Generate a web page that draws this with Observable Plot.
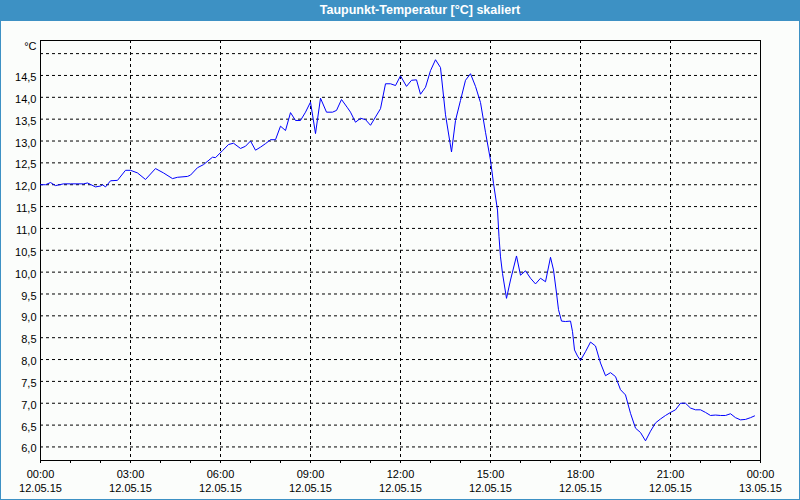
<!DOCTYPE html>
<html>
<head>
<meta charset="utf-8">
<script src="https://cdn.jsdelivr.net/npm/d3@7"></script>
<script src="https://cdn.jsdelivr.net/npm/@observablehq/plot@0.6"></script>
<style>
  html, body { margin: 0; padding: 0; background: #fbfdfb; }
  #win { position: relative; width: 800px; height: 500px; background: #fbfdfb; overflow: hidden; }
  #title { position: absolute; left: 0; top: 0; width: 800px; height: 21px; background: #3d91c4;
           color: #fff; font: bold 12.5px "Liberation Sans", Arial, sans-serif; line-height: 20px;
           box-sizing: border-box; padding-left: 40px; text-align: center; }
  #chart { position: absolute; left: 0; top: 21px; }
  #border { position: absolute; left: 0; top: 0; width: 800px; height: 500px; box-sizing: border-box;
            border: 1px solid #3d91c4; pointer-events: none; }
</style>
</head>
<body>
<div id="win">
  <div id="title">Taupunkt-Temperatur [°C] skaliert</div>
  <div id="chart"></div>
  <div id="border"></div>
</div>
<script>
// Data (time of day on 12.05.15, dew point in °C)
const times = [
  "00:00","00:10","00:20","00:30","00:46","01:00","01:26","01:34","01:50","02:00",
  "02:04","02:10","02:20","02:34","02:50","03:00","03:14","03:30","03:50","04:06",
  "04:24","04:34","04:54","05:00","05:14","05:26","05:44","05:50","06:04","06:16",
  "06:26","06:40","06:50","07:00","07:10","07:20","07:30","07:40","07:50","08:00",
  "08:10","08:20","08:30","08:40","08:50","09:00","09:10","09:20","09:32","09:44",
  "09:52","10:02","10:14","10:20","10:30","10:40","10:50","11:00","11:10","11:20",
  "11:30","11:40","11:50","12:00","12:12","12:22","12:32","12:40","12:50","13:00",
  "13:10","13:20","13:30","13:42","13:50","14:00","14:10","14:20","14:30","14:40",
  "14:50","15:00","15:06","15:14","15:17","15:20","15:24","15:32","15:40","15:52",
  "16:00","16:10","16:20","16:30","16:40","16:50","17:00","17:06","17:12","17:16",
  "17:22","17:30","17:40","17:44","17:48","17:54","18:00","18:10","18:20","18:30",
  "18:40","18:50","19:00","19:10","19:20","19:30","19:40","19:50","20:00","20:10",
  "20:20","20:30","20:40","20:50","21:00","21:10","21:20","21:30","21:40","21:50",
  "22:00","22:10","22:20","22:30","22:40","22:50","23:00","23:10","23:20","23:30",
  "23:40","23:48"
];
const dewPoint = [
  12.00,12.00,12.05,11.98,12.02,12.02,12.02,12.04,11.95,11.97,
  12.00,11.95,12.09,12.10,12.33,12.33,12.27,12.12,12.37,12.27,
  12.14,12.17,12.19,12.22,12.39,12.46,12.63,12.62,12.78,12.92,
  12.95,12.83,12.88,13.00,12.79,12.86,12.94,13.03,13.03,13.34,
  13.24,13.65,13.47,13.47,13.66,13.89,13.17,13.98,13.66,13.66,
  13.70,13.95,13.76,13.66,13.43,13.52,13.49,13.36,13.55,13.74,
  14.31,14.31,14.27,14.49,14.25,14.39,14.40,14.07,14.23,14.61,
  14.86,14.68,13.60,12.75,13.47,13.93,14.39,14.54,14.25,13.88,
  13.20,12.56,12.03,11.42,10.81,10.35,9.97,9.40,9.82,10.37,
  9.93,10.03,9.86,9.73,9.86,9.78,10.34,10.05,9.52,9.14,
  8.88,8.87,8.88,8.64,8.22,8.08,7.98,8.18,8.40,8.31,
  7.92,7.63,7.70,7.61,7.31,7.19,6.77,6.43,6.33,6.14,
  6.36,6.55,6.64,6.72,6.79,6.85,7.00,7.00,6.89,6.85,
  6.85,6.79,6.72,6.73,6.72,6.72,6.76,6.67,6.62,6.63,
  6.67,6.71
];
const yTickValues = [6.0,6.5,7.0,7.5,8.0,8.5,9.0,9.5,10.0,10.5,11.0,11.5,12.0,12.5,13.0,13.5,14.0,14.5];
const yGridValues = [...yTickValues, 15.0];
const majorHours = [0,3,6,9,12,15,18,21,24];
const minorHours = d3.range(0, 25);
const yDomain = [5.69, 15.3];
const unitLabel = "°C";

const day = (h, m = 0) => new Date(Date.UTC(2015, 4, 12, h, m));
const data = times.map((t, i) => {
  const [h, m] = t.split(":").map(Number);
  return {date: day(h, m), value: dewPoint[i]};
});
const majorTicks = majorHours.map(h => day(h));
const minorTicks = minorHours.map(h => day(h));
const innerMajor = majorTicks.slice(1, -1);
const commaFmt = d => d.toFixed(1).replace(".", ",");

const chart = Plot.plot({
  width: 800,
  height: 479,
  marginLeft: 40,
  marginRight: 40,
  marginTop: 19,
  marginBottom: 40,
  style: {fontFamily: '"Liberation Sans", Arial, sans-serif', fontSize: "11px", background: "transparent", color: "#000"},
  x: {type: "utc", domain: [day(0), day(24)], label: null},
  y: {domain: yDomain, label: null},
  marks: [
    Plot.ruleY(yGridValues, {stroke: "#000", strokeDasharray: "3,3"}),
    Plot.ruleX(innerMajor, {stroke: "#000", strokeDasharray: "3,3"}),
    Plot.frame({stroke: "#000"}),
    Plot.axisY(yTickValues, {tickSize: 0, tickPadding: 4, tickFormat: commaFmt, dy: 2, label: null, fontSize: 11}),
    Plot.axisX(minorTicks, {tickSize: 3, tickFormat: () => "", label: null}),
    Plot.axisX(majorTicks, {tickSize: 3, tickPadding: 7, tickFormat: d3.utcFormat("%H:%M"), label: null, fontSize: 11}),
    Plot.axisX(majorTicks, {tickSize: 0, tickPadding: 24, tickFormat: d3.utcFormat("%d.%m.%y"), label: null, fontSize: 11}),
    Plot.text([unitLabel], {frameAnchor: "top-left", textAnchor: "end", lineAnchor: "top", dx: -4, dy: 2, fontSize: 11}),
    Plot.line(data, {x: "date", y: "value", stroke: "#0000ff", strokeWidth: 1})
  ]
});
document.getElementById("chart").appendChild(chart);
</script>
</body>
</html>
